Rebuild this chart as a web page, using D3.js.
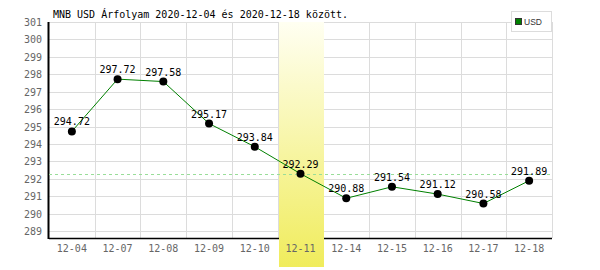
<!DOCTYPE html>
<html>
<head>
<meta charset="utf-8">
<script src="https://cdn.jsdelivr.net/npm/d3@7"></script>
<style>
  body { margin: 0; background: #fff; }
</style>
</head>
<body>
<div id="chart"></div>
<script>
// Data
var dates = ["12-04", "12-07", "12-08", "12-09", "12-10", "12-11", "12-14", "12-15", "12-16", "12-17", "12-18"];
var rates = [294.72, 297.72, 297.58, 295.17, 293.84, 292.29, 290.88, 291.54, 291.12, 290.58, 291.89];
var yTicks = [289, 290, 291, 292, 293, 294, 295, 296, 297, 298, 299, 300, 301];
var highlightDate = "12-11";
var titleText = "MNB USD Árfolyam 2020-12-04 és 2020-12-18 között.";
var seriesName = "USD";

var W = 600, H = 270;
// plot edges (note: "top" is taken by window.top)
var plotL = 49, plotR = 552, plotT = 22, plotB = 238;
var mono = "'DejaVu Sans Mono', monospace";

var svg = d3.select("#chart").append("svg")
    .attr("width", W)
    .attr("height", H);

var defs = svg.append("defs");
var grad = defs.append("linearGradient")
    .attr("id", "hl")
    .attr("x1", 0).attr("y1", 0).attr("x2", 0).attr("y2", 1);
grad.append("stop").attr("offset", "0%").attr("stop-color", "#fffff2");
grad.append("stop").attr("offset", "100%").attr("stop-color", "#f0ec5c");

var x = d3.scaleBand()
    .domain(dates)
    .range([plotL, plotR])
    .padding(0);

var y = d3.scaleLinear()
    .domain([288.6, 301])
    .range([plotB, plotT]);

// horizontal grid
svg.append("g")
    .selectAll("line")
    .data(yTicks)
    .enter()
    .append("line")
    .attr("x1", plotL).attr("x2", plotR)
    .attr("y1", d => Math.round(y(d)) + 0.5)
    .attr("y2", d => Math.round(y(d)) + 0.5)
    .attr("stroke", "#dcdcdc");

// vertical grid at band edges
svg.append("g")
    .selectAll("line")
    .data(dates)
    .enter()
    .append("line")
    .attr("x1", d => Math.round(x(d) + x.bandwidth()) + 0.5)
    .attr("x2", d => Math.round(x(d) + x.bandwidth()) + 0.5)
    .attr("y1", plotT)
    .attr("y2", plotB)
    .attr("stroke", "#dcdcdc");

// axes lines
svg.append("line")
    .attr("x1", plotL).attr("x2", plotR)
    .attr("y1", plotB + 0.5).attr("y2", plotB + 0.5)
    .attr("stroke", "#000")
    .attr("stroke-width", 1.5);
svg.append("line")
    .attr("x1", plotL - 0.5).attr("x2", plotL - 0.5)
    .attr("y1", plotT).attr("y2", plotB + 1)
    .attr("stroke", "#000")
    .attr("stroke-width", 2);

// highlighted day
svg.append("rect")
    .attr("x", Math.round(x(highlightDate)) + 1)
    .attr("y", plotT)
    .attr("width", Math.round(x.bandwidth()) - 1)
    .attr("height", 267 - plotT)
    .attr("fill", "url(#hl)");

// y tick labels
svg.append("g")
    .selectAll("text")
    .data(yTicks)
    .enter()
    .append("text")
    .attr("x", 42)
    .attr("y", d => y(d) + 4)
    .attr("text-anchor", "end")
    .style("font-family", mono)
    .style("font-size", "10px")
    .style("fill", "#666")
    .text(d => d);

// x tick labels
svg.append("g")
    .selectAll("text")
    .data(dates)
    .enter()
    .append("text")
    .attr("x", d => x(d) + x.bandwidth() / 2)
    .attr("y", 252)
    .attr("text-anchor", "middle")
    .style("font-family", mono)
    .style("font-size", "10px")
    .style("fill", "#666")
    .text(d => d);

// reference dashed line at highlighted value
var hlValue = rates[dates.indexOf(highlightDate)];
svg.append("line")
    .attr("x1", plotL).attr("x2", plotR)
    .attr("y1", Math.round(y(hlValue)) + 0.5)
    .attr("y2", Math.round(y(hlValue)) + 0.5)
    .attr("stroke", "#99dd99")
    .attr("stroke-dasharray", "3,3");

// the line
var line = d3.line()
    .x((d, i) => x(dates[i]) + x.bandwidth() / 2)
    .y(d => y(d));
svg.append("path")
    .datum(rates)
    .attr("d", line)
    .attr("fill", "none")
    .attr("stroke", "#008000")
    .attr("stroke-width", 1);

// points
svg.append("g")
    .selectAll("circle")
    .data(rates)
    .enter()
    .append("circle")
    .attr("cx", (d, i) => x(dates[i]) + x.bandwidth() / 2)
    .attr("cy", d => y(d))
    .attr("r", 4)
    .attr("fill", "#000");

// value labels
svg.append("g")
    .selectAll("text")
    .data(rates)
    .enter()
    .append("text")
    .attr("x", (d, i) => x(dates[i]) + x.bandwidth() / 2)
    .attr("y", d => y(d) - 6)
    .attr("text-anchor", "middle")
    .style("font-family", mono)
    .style("font-size", "10px")
    .style("fill", "#000")
    .text(d => d.toFixed(2));

// title
svg.append("text")
    .attr("x", 53)
    .attr("y", 18)
    .style("font-family", mono)
    .style("font-size", "10px")
    .style("fill", "#000")
    .text(titleText);

// legend
var lg = svg.append("g");
lg.append("rect")
    .attr("x", 511.5).attr("y", 11.5)
    .attr("width", 40).attr("height", 20)
    .attr("fill", "#fff")
    .attr("stroke", "#dcdcdc");
lg.append("rect")
    .attr("x", 515.5).attr("y", 18.5)
    .attr("width", 6).attr("height", 6)
    .attr("fill", "#008000")
    .attr("stroke", "#333");
lg.append("text")
    .attr("x", 524)
    .attr("y", 25)
    .style("font-family", "'Liberation Sans', Arial, sans-serif")
    .style("font-size", "8.5px")
    .style("fill", "#333")
    .text(seriesName);
</script>
</body>
</html>
